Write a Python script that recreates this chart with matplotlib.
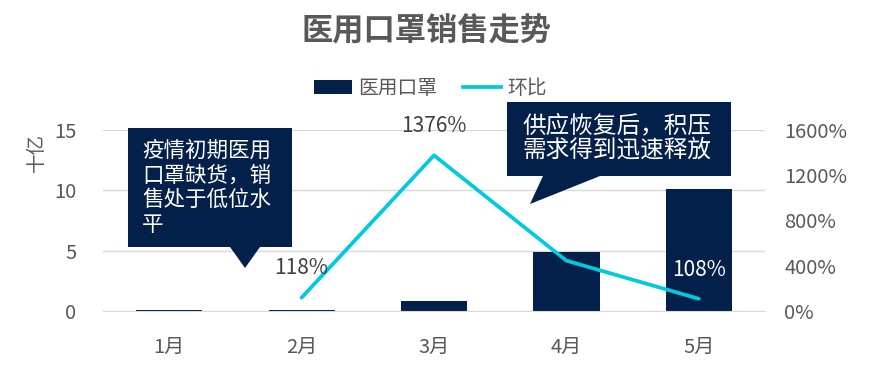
import matplotlib
matplotlib.use("Agg")
import matplotlib.pyplot as plt
from matplotlib.patches import Polygon
from matplotlib.lines import Line2D
from matplotlib.patches import Patch
from matplotlib.ticker import FuncFormatter

plt.rcParams['font.family'] = ['Noto Sans CJK SC', 'DejaVu Sans']

months = ["1月", "2月", "3月", "4月", "5月"]
sales = [0.08, 0.1, 0.83, 4.85, 10.12]          # 十亿
mom_x = [1, 2, 3, 4]
mom = [118, 1376, 445, 108]                      # 环比 %
mom_labels = ["118%", "1376%", "", "108%"]
title = "医用口罩销售走势"
note1 = "疫情初期医用\n口罩缺货，销\n售处于低位水\n平"
note2 = "供应恢复后，积压\n需求得到迅速释放"

NAVY = "#022049"
CYAN = "#00C9E0"
GRAY = "#595959"
GRID = "#D9D9D9"

W, H = 871, 373
fig = plt.figure(figsize=(W / 100, H / 100), dpi=100)
ax = fig.add_axes([103 / W, 1 - 311 / H, (765 - 103) / W, (311 - 130) / H])
ax2 = ax.twinx()

x = list(range(len(months)))
ax.bar(x, sales, width=0.5, color=NAVY, zorder=2)
ax.set_xlim(-0.5, len(months) - 0.5)
ax.set_ylim(0, 15)
ax.set_yticks([0, 5, 10, 15])
ax.set_xticks(x)
ax.set_xticklabels(months)
ax.grid(axis='y', color=GRID, linewidth=1, zorder=0)
ax.set_axisbelow(True)

ax2.plot(mom_x, mom, color=CYAN, linewidth=2.7, solid_capstyle='round', zorder=3)
ax2.set_ylim(0, 1600)
ax2.set_yticks([0, 400, 800, 1200, 1600])
ax2.yaxis.set_major_formatter(FuncFormatter(lambda v, p: f"{int(v)}%"))

for a in (ax, ax2):
    for s in a.spines.values():
        s.set_visible(False)
    a.tick_params(length=0, labelsize=14.5, colors=GRAY)
ax.spines['bottom'].set_visible(True)
ax.spines['bottom'].set_color(GRID)
ax.tick_params(axis='x', pad=19)
ax.tick_params(axis='y', pad=19)
ax2.tick_params(axis='y', pad=14)

for xi, v, lab in zip(mom_x, mom, mom_labels):
    if not lab:
        continue
    col = "white" if xi == 4 else "#404040"
    ax2.annotate(lab, (xi, v), xytext=(0, 21), textcoords='offset points',
                 ha='center', va='center', fontsize=15, color=col, zorder=5)

fig.text(426 / W, 1 - 31 / H, title, ha='center', va='center', fontsize=22.5,
         fontweight='bold', color=GRAY)
fig.text(36 / W, 1 - 152 / H, "十亿", ha='center', va='center', rotation=90,
         fontsize=14, color=GRAY)

handles = [Patch(facecolor=NAVY, edgecolor='none'),
           Line2D([0], [0], color=CYAN, linewidth=2.7)]
fig.legend(handles, ["医用口罩", "环比"], loc='center', ncol=2,
           bbox_to_anchor=(430 / W, 1 - 88 / H), frameon=False, fontsize=14.2,
           labelcolor=GRAY, handlelength=1.95, handleheight=0.7, columnspacing=1.3,
           handletextpad=0.3)

def px(pts):
    return [(a / W, 1 - b / H) for a, b in pts]

poly1 = Polygon(px([(128, 128), (292, 128), (292, 247), (260, 247), (245, 268),
                    (230, 247), (128, 247)]), closed=True, transform=fig.transFigure,
                facecolor=NAVY, edgecolor='none', zorder=10)
fig.add_artist(poly1)
fig.text(142 / W, 1 - 140 / H, note1, ha='left', va='top', fontsize=15.5,
         color='white', linespacing=1.15, zorder=11)

poly2 = Polygon(px([(507, 102), (731, 102), (731, 176), (600, 176), (530, 204),
                    (543, 176), (507, 176)]), closed=True, transform=fig.transFigure,
                facecolor=NAVY, edgecolor='none', zorder=10)
fig.add_artist(poly2)
fig.text(522 / W, 1 - 114 / H, note2, ha='left', va='top', fontsize=17,
         color='white', linespacing=1.1, zorder=11)

fig.savefig("out.png", dpi=100)
